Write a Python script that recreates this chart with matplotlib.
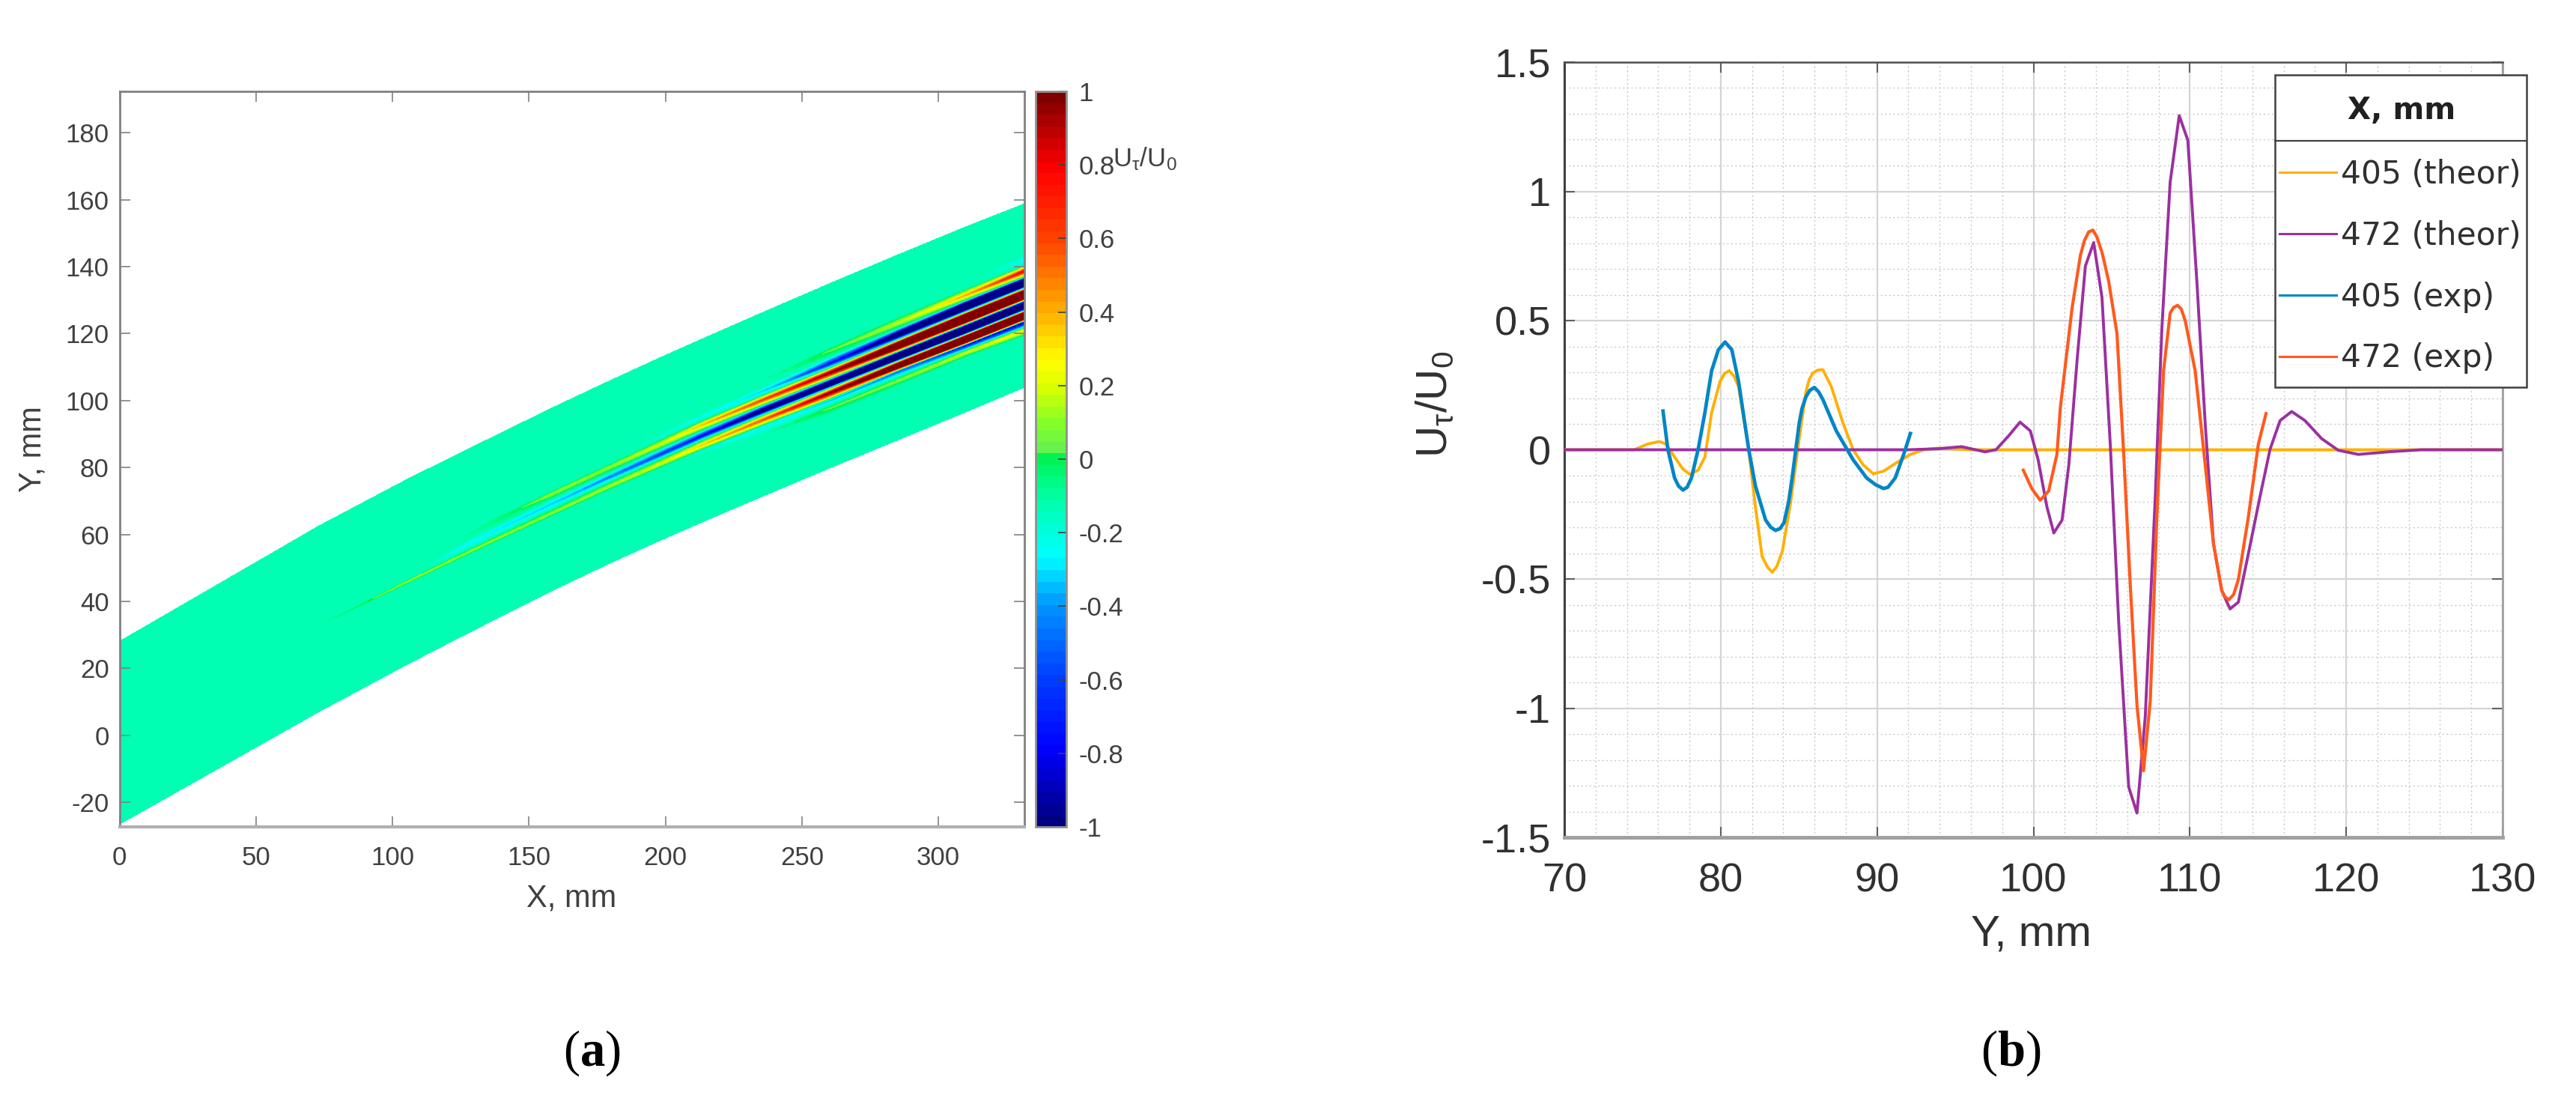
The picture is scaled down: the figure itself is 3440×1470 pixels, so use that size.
import numpy as np
import matplotlib
matplotlib.use("Agg")
import matplotlib.pyplot as plt
from matplotlib.cm import ScalarMappable
from matplotlib.colors import LinearSegmentedColormap, BoundaryNorm
from matplotlib.patches import Rectangle

plt.rcParams['font.family'] = ['Liberation Sans', 'DejaVu Sans']
plt.rcParams['axes.unicode_minus'] = False
plt.rcParams['mathtext.fontset'] = 'custom'
plt.rcParams['mathtext.rm'] = 'Liberation Serif'
plt.rcParams['mathtext.bf'] = 'Liberation Serif:bold'
plt.rcParams['mathtext.it'] = 'Liberation Sans:italic'

# ---------------- panel (a): field ----------------
x_stations = [0, 73, 105, 124, 139, 158, 178, 198, 214, 235, 260, 285, 310, 331.5]

y_edge_lo = [-26.6, 7, 21, 29, 35.2, 43, 50.8, 58.2, 63.9, 71.2, 79.8, 88.2, 96.6, 104]
y_b_lo = [-3, 31.5, 44.2, 51.4, 57, 63.9, 71.2, 78, 82.4, 88.2, 96, 104.4, 113, 119.4]
y_b = [-2, 31.8, 44.6, 51.9, 57.5, 64.5, 71.9, 78.8, 83.6, 89.6, 97.6, 105.9, 114.4, 121]
y_c = [-1, 32.2, 45.1, 52.5, 58.2, 65.3, 72.8, 79.9, 85.2, 92, 100, 108.8, 116.6, 123.5]
y_d = [0, 32.7, 45.7, 53.2, 59, 66.2, 73.8, 81.1, 86.9, 94, 102.2, 110.3, 118.3, 125.3]
y_z_de = [0.5, 33, 46.2, 53.9, 59.9, 67.3, 75.1, 82.4, 88.3, 95.4, 103.6, 111.7, 119.7, 126.8]
y_e = [1, 33.3, 47, 55.6, 61.6, 69, 76.6, 83.9, 89.7, 96.9, 105, 113.2, 121.2, 128.4]
y_z_ef = [2, 34, 48, 57, 63, 70.5, 78, 85.5, 91.3, 98.4, 106.5, 114.7, 122.9, 130]
y_f = [3, 35, 49, 58.5, 64.8, 72, 79.6, 87, 92.9, 100, 108.2, 116.4, 124.5, 131.5]
y_z_fg = [4, 36, 50, 59.3, 65.6, 72.8, 80.4, 88.2, 94.2, 101.3, 109.6, 118, 126.4, 133.5]
y_g = [5, 37, 51, 60, 66.2, 73.5, 81.2, 89.5, 95.4, 102.6, 111, 119.7, 128.2, 135.3]
y_z_gh = [6, 37.5, 51.5, 60.5, 66.6, 73.9, 81.7, 90.4, 96.7, 104, 113, 121.5, 130, 137]
y_h = [7, 38, 52, 61, 67, 74.3, 82.2, 91.3, 98, 105.8, 114.8, 123.2, 131.5, 138.7]
y_h_up = [8, 39, 53, 62, 68, 75, 83, 92.3, 99, 107, 115.8, 124.8, 133.3, 140.3]
y_j = [9, 40, 54, 63, 69, 76, 84, 93.3, 100, 108, 117, 126, 135, 142]
y_j_up = [10, 41, 55, 64, 70, 77, 85, 94.3, 101, 109, 118, 127, 136, 144]
y_edge_hi = [28, 62.5, 76.3, 84, 90, 97.6, 105.3, 112.8, 118.6, 126.1, 134.9, 143.5, 151.9, 158.8]

base = [-0.12] * 14
v_b = [-.12, -.12, -.12, -.12, -.12, -.12, -.12, -.12, -.12, -.12, .03, .08, .18, .3]
v_c = [-.12, -.12, -.12, -.12, -.12, -.12, -.12, -.12, -.22, -.27, -.38, -.55, -.9, -1.1]
v_d = [-.12, -.12, .1, .1, .1, .1, .12, .2, .35, .55, 1.0, 2, 3, 3]
v_e = [-.12, -.12, -.12, -.27, -.32, -.36, -.5, -.7, -.9, -1.5, -2, -3, -3, -3]
v_f = [-.12, -.12, -.12, -.12, -.05, .1, .1, .2, .38, .6, 1.0, 2, 3, 3]
v_g = [-.12, -.12, -.12, -.12, -.12, -.12, -.12, -.2, -.27, -.35, -.8, -1.6, -2.5, -3]
v_h = [-.12, -.12, -.12, -.12, -.12, -.12, -.12, -.12, -.12, -.12, .03, .15, .4, .8]
v_j = [-.12, -.12, -.12, -.12, -.12, -.12, -.12, -.12, -.12, -.12, -.12, -.12, -.12, -.27]

cb_ticks = [-1, -.8, -.6, -.4, -.2, 0, .2, .4, .6, .8, 1]
cb_labels = ['-1', '-0.8', '-0.6', '-0.4', '-0.2', '0', '0.2', '0.4', '0.6', '0.8', '1']
ax_a_xticks = [0, 50, 100, 150, 200, 250, 300]
ax_a_yticks = [-20, 0, 20, 40, 60, 80, 100, 120, 140, 160, 180]

# ---------------- panel (b): profiles ----------------
y405_theor = [70, 74.46, 75.32, 76.08, 76.51, 77.05, 77.59, 78.02, 78.56, 78.99, 79.42, 79.96, 80.25, 80.54,
              80.85, 81.14, 81.79, 82.22, 82.65, 83.0, 83.30, 83.6, 83.94, 84.48, 85.02, 85.45, 85.65, 85.88,
              86.2, 86.53, 87.07, 87.82, 88.47, 89.12, 89.76, 90.41, 91.27, 92.13, 93.0, 93.86, 96, 130]
u405_theor = [0, 0, .022, .032, .022, -.028, -.075, -.095, -.079, -.028, .144, .265, .295, .306,
              .285, .245, 0, -.221, -.413, -.455, -.474, -.45, -.393, -.2, .043, .225, .27, .296,
              .308, .31, .245, .103, 0, -.059, -.093, -.083, -.049, -.018, 0, .006, 0, 0]

y472_theor = [70, 92, 93.9, 95.4, 96.9, 97.6, 98.4, 99.14, 99.8, 100.3, 100.86, 101.3, 101.83, 102.26,
              102.79, 103.32, 103.85, 104.38, 104.91, 105.45, 106.09, 106.62, 107.15, 107.79,
              108.21, 108.74, 109.32, 109.87, 110.45, 110.98, 111.51, 112.04, 112.57, 113.1,
              113.74, 114.49, 115.13, 115.77, 116.51, 117.36, 118.43, 119.49, 120.77, 122.7,
              124.8, 130]
u472_theor = [0, 0, .004, .012, -.008, 0, .053, .107, .073, -.039, -.221, -.322, -.272, -.059,
              .347, .711, .802, .59, .022, -.667, -1.305, -1.406, -1.031, -.18,
              .468, 1.035, 1.293, 1.198, .65, .103, -.363, -.545, -.616, -.59,
              -.403, -.18, .002, .113, .148, .113, .043, -.002, -.018, -.008,
              0, 0]

y405_exp = [76.31, 76.62, 77.05, 77.3, 77.59, 77.85, 78.13, 78.56, 78.99, 79.42, 79.85, 80.28, 80.71, 81.14,
            81.79, 82.22, 82.87, 83.2, 83.51, 83.8, 84.05, 84.35, 84.59, 85.02, 85.2, 85.45, 85.7, 85.99,
            86.25, 86.53, 87.39, 88.47, 89.33, 89.9, 90.41, 90.7, 91.16, 91.7, 92.13]
u405_exp = [.15, .002, -.109, -.14, -.156, -.145, -.109, .002, .144, .306, .387, .417, .387, .265,
            .002, -.14, -.272, -.30, -.312, -.305, -.282, -.2, -.099, .103, .16, .205, .23, .241,
            .225, .195, .073, -.039, -.109, -.135, -.15, -.145, -.109, -.018, .063]

y472_exp = [99.35, 99.89, 100.43, 100.97, 101.5, 101.72, 102.47, 103, 103.26, 103.53, 103.8, 104.06, 104.4, 104.81,
            105.34, 105.77, 106.19, 106.62, 107.04, 107.47, 107.89, 108.32, 108.74, 108.95, 109.21, 109.45, 109.7,
            110.34, 110.98, 111.51, 112.04, 112.25, 112.51, 112.8, 113.1, 113.74, 114.38, 114.87]
u472_exp = [-.079, -.15, -.195, -.16, -.018, .164, .549, .752, .81, .843, .85, .823, .76, .652,
            .45, -.016, -.523, -.989, -1.242, -.97, -.261, .306, .529, .55, .559, .545, .5,
            .306, -.057, -.363, -.545, -.57, -.58, -.56, -.503, -.261, .022, .14]

series_names = ['405 (theor)', '472 (theor)', '405 (exp)', '472 (exp)']
series_colors = ['#FFB000', '#9B30A0', '#0086C6', '#FF5A1E']
b_xticks = [70, 80, 90, 100, 110, 120, 130]
b_yticks = [-1.5, -1, -.5, 0, .5, 1, 1.5]
b_ylabels = ['-1.5', '-1', '-0.5', '0', '0.5', '1', '1.5']

# ---------------- layout helpers ----------------
W, H = 3440, 1470
def fx(p): return p / W
def fy(p): return 1 - p / H
def axes_px(l, t, r, b):
    return fig.add_axes([fx(l), fy(b), (r - l) / W, (b - t) / H])

fig = plt.figure(figsize=(34.4, 14.7), dpi=100, facecolor='white')
TXT = '#404040'

# ---------------- panel (a) ----------------
ax = axes_px(159.5, 122, 1368, 1104)
cmap = LinearSegmentedColormap.from_list('field', [
    (0.000, (0, 0, .5)), (0.100, (0, 0, 1)), (0.200, (0, .25, 1)), (0.300, (0, .59, 1)),
    (0.365, (0, 1, 1)), (0.400, (0, 1, .86)), (0.445, (0, 1, .66)), (0.500, (0, .95, .33)),
    (0.515, (.4, .95, .3)), (0.550, (.52, 1, .15)), (0.600, (.86, 1, 0)), (0.635, (1, 1, 0)),
    (0.700, (1, .7, 0)), (0.800, (1, .27, 0)), (0.900, (1, 0, 0)), (1.000, (.5, 0, 0))], N=63)
cmap.set_over((.5, 0, 0))
cmap.set_under((0, 0, .5))
levels = np.linspace(-1, 1, 64)

Xg = np.tile(np.array(x_stations, float), (17, 1))
Yg = np.array([y_edge_lo, y_b_lo, y_b, y_c, y_d, y_z_de, y_e, y_z_ef, y_f, y_z_fg, y_g,
               y_z_gh, y_h, y_h_up, y_j, y_j_up, y_edge_hi], float)
Zg = np.array([base, base, v_b, v_c, v_d, base, v_e, base, v_f, base, v_g,
               base, v_h, base, v_j, base, base], float)
cs = ax.contourf(Xg, Yg, Zg, levels=levels, cmap=cmap, extend='both', antialiased=False)
ax.set_xlim(0, 331.5)
ax.set_ylim(-27.4, 192.4)
ax.set_xticks(ax_a_xticks)
ax.set_yticks(ax_a_yticks)
ax.tick_params(axis='both', direction='in', length=10, width=1.2, color='#808080',
               top=True, right=True, labelsize=25, labelcolor=TXT)
ax.tick_params(axis='x', pad=18)
ax.tick_params(axis='y', pad=10)
for s in ax.spines.values():
    s.set_color('#808080')
    s.set_linewidth(2)
ax.spines['bottom'].set_color('#b0b0b0')
ax.spines['bottom'].set_linewidth(3)

cax = axes_px(1383, 122, 1424, 1104)
sm = ScalarMappable(norm=BoundaryNorm(levels, 63), cmap=cmap)
cbar = fig.colorbar(sm, cax=cax, extend='neither', drawedges=False, spacing='proportional')
cbar.set_ticks(cb_ticks)
cbar.set_ticklabels(cb_labels)
cbar.ax.tick_params(direction='in', length=8, width=1.2, color='#404040', labelsize=25,
                    labelcolor=TXT, pad=12, right=True, left=False)
cbar.ax.minorticks_off()
cbar.outline.set_edgecolor('#909090')
cbar.outline.set_linewidth(2)

fig.text(fx(1529), fy(212), r'$\mathdefault{U_{\tau}/U_0}$', fontsize=25, color=TXT,
         ha='center', va='center')
fig.text(fx(763), fy(1200), 'X, mm', fontsize=30, color=TXT, ha='center', va='center')
fig.text(fx(44), fy(600), 'Y, mm', fontsize=30, color=TXT, ha='center', va='center', rotation=90)
fig.text(fx(790), fy(1406), r'($\mathbf{a}$)', fontsize=48, family='Liberation Serif',
         color='black', ha='center', va='center')

# ---------------- panel (b) ----------------
bx = axes_px(2089, 83, 3342, 1118)
bx.set_facecolor('white')
bx.plot(y405_theor, u405_theor, color=series_colors[0], lw=2.8, label=series_names[0], zorder=3)
bx.plot(y472_theor, u472_theor, color=series_colors[1], lw=2.8, label=series_names[1], zorder=4)
bx.plot(y405_exp, u405_exp, color=series_colors[2], lw=3.4, label=series_names[2], zorder=5)
bx.plot(y472_exp, u472_exp, color=series_colors[3], lw=3.0, label=series_names[3], zorder=6)
bx.set_xlim(70, 130)
bx.set_ylim(-1.5, 1.5)
bx.set_xticks(b_xticks)
bx.set_yticks(b_yticks)
bx.set_yticklabels(b_ylabels)
bx.set_xticks(np.arange(70, 131, 2), minor=True)
bx.set_yticks(np.arange(-1.5, 1.51, .1), minor=True)
bx.grid(which='major', color='#d4d4d4', lw=1.6, zorder=1)
bx.grid(which='minor', color='#c8c8c8', lw=1.0, ls=(0, (1.5, 2.5)), zorder=1)
bx.set_axisbelow(True)
bx.tick_params(which='major', axis='both', direction='in', length=10, width=1.5, color='#606060',
               top=True, right=True, labelsize=39, labelcolor='#303030')
bx.tick_params(which='minor', length=0)
bx.tick_params(axis='x', pad=24)
bx.tick_params(axis='y', pad=13)
bx.spines['left'].set_color('#404040'); bx.spines['left'].set_linewidth(2.2)
bx.spines['top'].set_color('#505050'); bx.spines['top'].set_linewidth(1.8)
bx.spines['right'].set_color('#a0a0a0'); bx.spines['right'].set_linewidth(2)
bx.spines['bottom'].set_color('#a0a0a0'); bx.spines['bottom'].set_linewidth(3.5)

# legend box with a header cell, then the library legend inside it
bx.add_patch(Rectangle((fx(3038), fy(517)), 336 / W, 417 / H, transform=fig.transFigure,
                       facecolor='white', edgecolor='#404040', lw=1.8, clip_on=False, zorder=9))
bx.plot([fx(3038), fx(3374)], [fy(188), fy(188)], transform=fig.transFigure, color='#404040',
        lw=1.6, clip_on=False, zorder=11, scalex=False, scaley=False)
bx.text(fx(3207), fy(148), 'X, mm', transform=fig.transFigure, family='DejaVu Sans', weight='bold',
        fontsize=29, color='#202020', ha='center', va='center', zorder=11)
handles = bx.get_lines()[:4]
leg = bx.legend(handles, series_names, loc='upper left', bbox_to_anchor=(fx(3044), fy(212)),
                bbox_transform=fig.transFigure, borderaxespad=0, borderpad=0, frameon=False,
                prop={'family': 'DejaVu Sans', 'size': 30.5},
                handlelength=1.79, handletextpad=0.14, labelspacing=0.94)
for t in leg.get_texts():
    t.set_color('#303030')
for h in leg.get_lines():
    h.set_linewidth(2.2)
leg.set_zorder(12)

fig.text(fx(1917), fy(540), r'$\mathdefault{U_{\tau}/U_0}$', fontsize=42, color='#303030',
         ha='center', va='center', rotation=90)
fig.text(fx(2713), fy(1248), 'Y, mm', fontsize=42, color='#303030', ha='center', va='center')
fig.text(fx(2685), fy(1406), r'($\mathbf{b}$)', fontsize=48, family='Liberation Serif',
         color='black', ha='center', va='center')

fig.savefig('out.png', dpi=100, facecolor='white')
